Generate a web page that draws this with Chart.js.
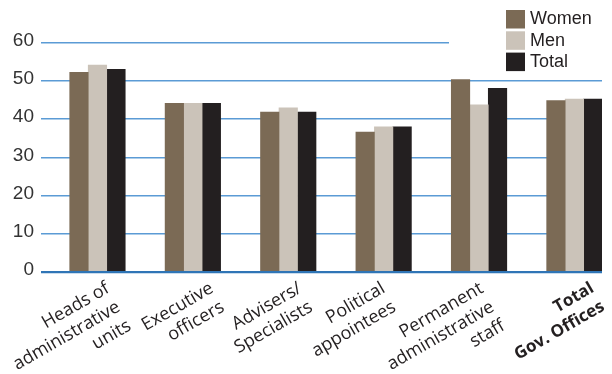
<!DOCTYPE html>
<html>
<head>
<meta charset="utf-8">
<script src="https://cdn.jsdelivr.net/npm/chart.js@4.4.1/dist/chart.umd.min.js"></script>
<style>
  html, body { margin: 0; padding: 0; background: #ffffff; }
  #wrap { width: 612px; height: 374px; }
</style>
</head>
<body>
<div id="wrap"><canvas id="chart" width="612" height="374"></canvas></div>
<script>
// Share of each staff group, per cent
const categories = [
  ["Heads of", "administrative", "units"],
  ["Executive", "officers"],
  ["Advisers/", "Specialists"],
  ["Political", "appointees"],
  ["Permanent", "administrative", "staff"],
  ["Total", "Gov. Offices"]
];
const women = [52.3, 44.2, 41.9, 36.6, 50.4, 44.9];
const men   = [54.2, 44.2, 43.0, 38.0, 43.8, 45.3];
const total = [53.1, 44.2, 41.9, 38.0, 48.1, 45.3];
const seriesNames = ["Women", "Men", "Total"];
const yTicks = [0, 10, 20, 30, 40, 50, 60];

// Label anchors sit a little right of each group centre (in category units)
const labelNudge = [0.11, 0.20, 0.126, 0.0, 0.03, 0.19];

const colours = ["#7b6a55", "#cbc3b9", "#231f20"];
const gridBlue = "#5b9bd5";
const zeroBlue = "#2f75b6";

const toPoints = (arr) => arr.map((v, i) => ({ x: i, y: v }));

// Legend stacked in the upper right corner
const cornerLegend = {
  id: "cornerLegend",
  afterDraw(chart) {
    const ctx = chart.ctx;
    ctx.save();
    ctx.font = "18px 'Liberation Sans', Arial, sans-serif";
    ctx.textBaseline = "middle";
    ctx.textAlign = "left";
    chart.data.datasets.forEach((ds, i) => {
      const top = 10 + i * 21.3;
      ctx.fillStyle = ds.backgroundColor;
      ctx.fillRect(506, top, 19, 18.5);
      ctx.fillStyle = "#231f20";
      ctx.fillText(ds.label, 530, top + 9.5);
    });
    ctx.restore();
  }
};

// The top grid line stops short of the legend
const trimTopLine = {
  id: "trimTopLine",
  beforeDatasetsDraw(chart) {
    const y = chart.scales.y.getPixelForValue(60);
    const ctx = chart.ctx;
    ctx.save();
    ctx.fillStyle = "#ffffff";
    ctx.fillRect(449, y - 3, chart.chartArea.right - 449 + 3, 6);
    ctx.restore();
  }
};

new Chart(document.getElementById("chart"), {
  type: "bar",
  data: {
    datasets: [
      { label: seriesNames[0], data: toPoints(women), backgroundColor: colours[0] },
      { label: seriesNames[1], data: toPoints(men),   backgroundColor: colours[1] },
      { label: seriesNames[2], data: toPoints(total), backgroundColor: colours[2] }
    ]
  },
  options: {
    responsive: false,
    devicePixelRatio: 1,
    animation: false,
    layout: { padding: { top: 43, right: 10, left: 0, bottom: 0 } },
    datasets: { bar: { barThickness: 18.5, borderWidth: 0 } },
    plugins: {
      legend: { display: false },
      tooltip: { enabled: false }
    },
    scales: {
      x: {
        type: "linear",
        offset: false,
        min: -0.592,
        max: 5.289,
        grid: { display: false, drawTicks: false, offset: false },
        border: { display: false },
        afterBuildTicks(scale) {
          scale.ticks = categories.map((c, i) => ({ value: i + labelNudge[i] }));
        },
        afterFit(scale) {
          scale.height = 102.3;
          scale.paddingLeft = 0;
          scale.paddingRight = 0;
        },
        ticks: {
          autoSkip: false,
          maxRotation: 30,
          minRotation: 30,
          padding: 6,
          color: "#231f20",
          font: (ctx) => {
            const last = ctx.index === categories.length - 1;
            return {
              family: "'Open Sans', sans-serif",
              size: last ? 17 : 18,
              lineHeight: last ? 1.25 : 1.2,
              weight: last ? "bold" : "normal"
            };
          },
          callback: (value, index) => categories[index]
        }
      },
      y: {
        min: 0,
        max: 60,
        afterBuildTicks(scale) {
          scale.ticks = yTicks.map((v) => ({ value: v }));
        },
        afterFit(scale) { scale.width = 41; },
        border: { display: false },
        grid: {
          drawTicks: false,
          color: (ctx) => (ctx.tick && ctx.tick.value === 0 ? zeroBlue : gridBlue),
          lineWidth: (ctx) => (ctx.tick && ctx.tick.value === 0 ? 2.2 : 1.5)
        },
        ticks: {
          padding: 7,
          labelOffset: -2,
          color: "#333333",
          font: { family: "'Liberation Sans', Arial, sans-serif", size: 19 }
        }
      }
    }
  },
  plugins: [trimTopLine, cornerLegend]
});
</script>
</body>
</html>
